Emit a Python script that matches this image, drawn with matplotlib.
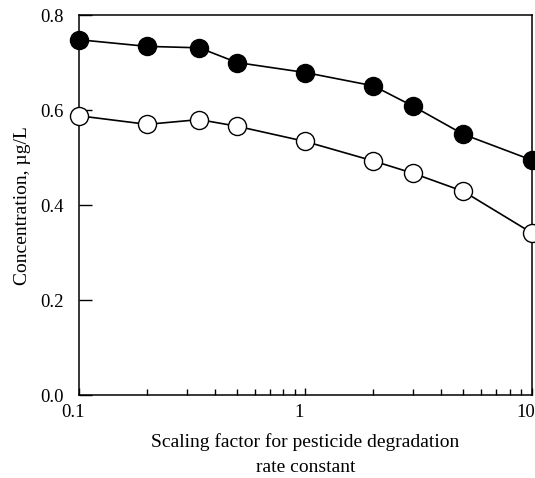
import matplotlib
matplotlib.use("Agg")
import matplotlib.pyplot as plt
import matplotlib.transforms as mtransforms
from matplotlib.ticker import FixedLocator, FixedFormatter, LogLocator, NullFormatter

scaling = [0.1, 0.2, 0.34, 0.5, 1, 2, 3, 5, 10]
filled_conc = [0.748, 0.734, 0.731, 0.700, 0.679, 0.651, 0.608, 0.549, 0.495]
open_conc = [0.588, 0.570, 0.580, 0.566, 0.534, 0.493, 0.467, 0.429, 0.342]
xticks = [0.1, 1, 10]
xticklabels = ["0.1", "1", "10"]
yticks = [0.0, 0.2, 0.4, 0.6, 0.8]
yticklabels = ["0.0", "0.2", "0.4", "0.6", "0.8"]

plt.rcParams['font.family'] = ['Liberation Serif', 'DejaVu Serif']

fig = plt.figure(figsize=(5.35, 4.78), dpi=100)
ax = fig.add_axes([0.1477, 0.173, 0.8458, 0.7956])

ax.plot(scaling, filled_conc, color='black', lw=1.2, marker='o', ms=13,
        mfc='black', mec='black', mew=1.0, clip_on=False, zorder=3)
ax.plot(scaling, open_conc, color='black', lw=1.2, marker='o', ms=13,
        mfc='white', mec='black', mew=1.0, clip_on=False, zorder=3)

ax.set_xscale('log')
ax.set_xlim(0.1, 10)
ax.set_ylim(0.0, 0.8)
ax.xaxis.set_major_locator(FixedLocator(xticks))
ax.xaxis.set_major_formatter(FixedFormatter(xticklabels))
ax.xaxis.set_minor_locator(LogLocator(base=10, subs=range(2, 10)))
ax.xaxis.set_minor_formatter(NullFormatter())
ax.yaxis.set_major_locator(FixedLocator(yticks))
ax.yaxis.set_major_formatter(FixedFormatter(yticklabels))

ax.tick_params(axis='x', which='major', direction='in', length=5, width=1, labelsize=13.5, pad=6)
ax.tick_params(axis='x', which='minor', direction='in', length=4, width=1)
ax.tick_params(axis='y', which='major', direction='in', length=9, width=1, labelsize=13.5, pad=11)
for s in ax.spines.values():
    s.set_linewidth(1.1)

offset = mtransforms.ScaledTranslation(-6 / 100, 0, fig.dpi_scale_trans)
for lbl in ax.get_xticklabels():
    lbl.set_transform(lbl.get_transform() + offset)

ax.set_ylabel("Concentration, µg/L", fontsize=14, labelpad=7)
ax.set_xlabel("Scaling factor for pesticide degradation\nrate constant", fontsize=14,
              labelpad=9, linespacing=1.6)

fig.savefig("out.png", dpi=100)
